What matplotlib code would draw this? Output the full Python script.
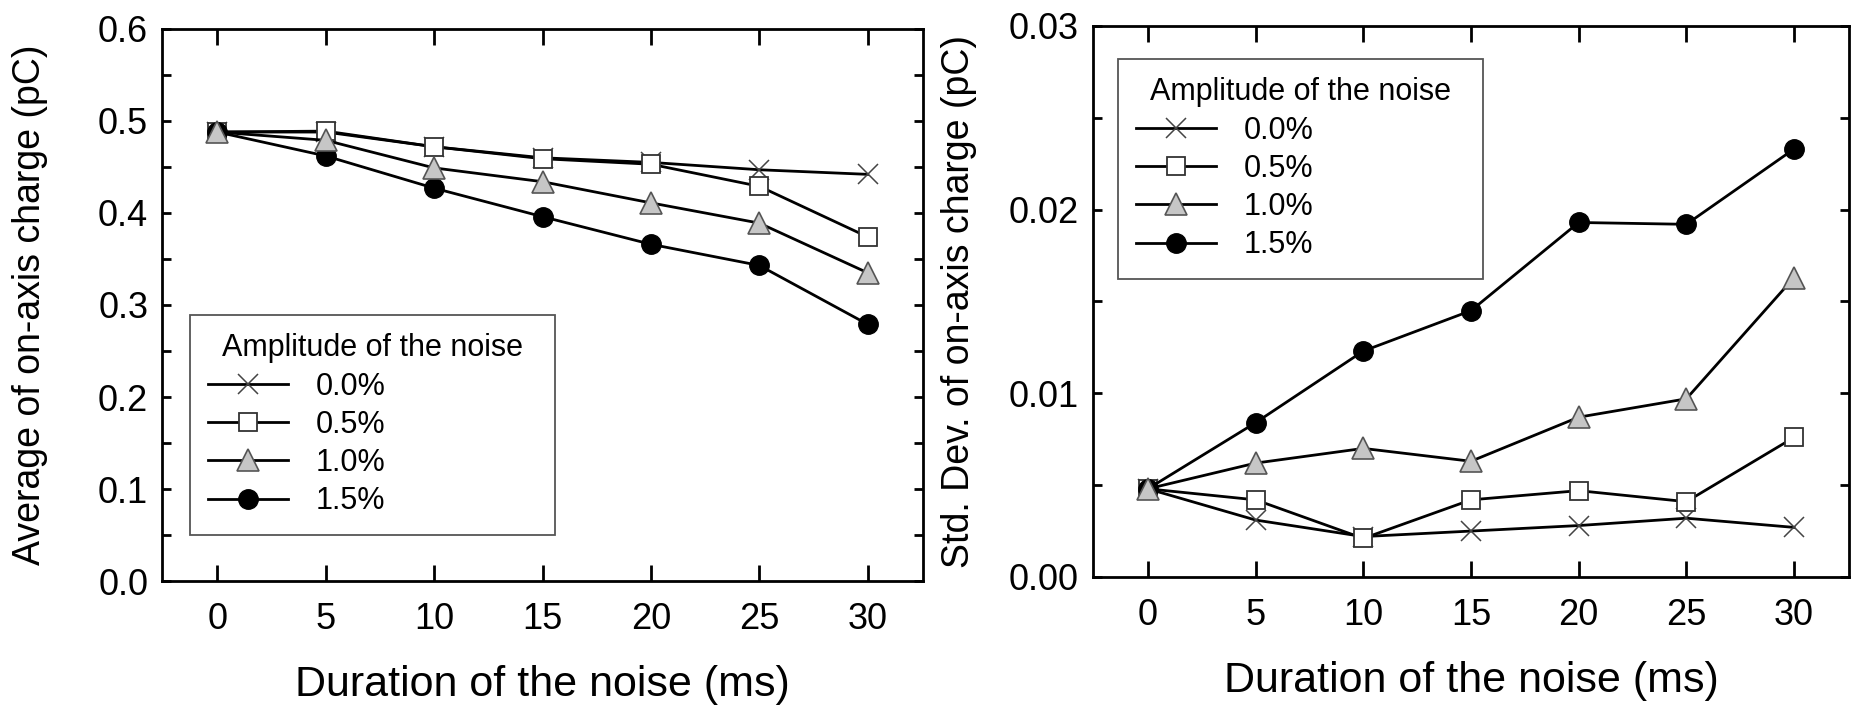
import numpy as np
import matplotlib
matplotlib.use('Agg')
import matplotlib.pyplot as plt
from matplotlib.ticker import MultipleLocator, FormatStrFormatter

plt.rcParams['font.family'] = ['Liberation Sans', 'DejaVu Sans']

# duration of the noise (ms)
x = [0, 5, 10, 15, 20, 25, 30]
labels = ['0.0%', '0.5%', '1.0%', '1.5%']

# average of on-axis charge (pC)
avg_00 = [0.488, 0.488, 0.472, 0.460, 0.455, 0.447, 0.442]
avg_05 = [0.488, 0.489, 0.472, 0.459, 0.453, 0.429, 0.374]
avg_10 = [0.488, 0.479, 0.449, 0.434, 0.411, 0.389, 0.335]
avg_15 = [0.488, 0.462, 0.427, 0.396, 0.366, 0.343, 0.279]

# std. dev. of on-axis charge (pC)
std_00 = [0.0048, 0.0031, 0.0022, 0.0025, 0.0028, 0.0032, 0.0027]
std_05 = [0.0048, 0.0042, 0.0021, 0.0042, 0.0047, 0.0041, 0.0076]
std_10 = [0.0048, 0.0062, 0.0070, 0.0063, 0.0087, 0.0097, 0.0163]
std_15 = [0.0048, 0.0084, 0.0123, 0.0145, 0.0193, 0.0192, 0.0233]

styles = [
    dict(marker='x', ms=15, mfc='none', mec='#444444', mew=1.1, zorder=2),
    dict(marker='s', ms=13.5, mfc='white', mec='#333333', mew=1.3, zorder=3),
    dict(marker='^', ms=15.5, mfc='#c6c6c6', mec='#555555', mew=1.2, zorder=5),
    dict(marker='o', ms=14, mfc='black', mec='black', mew=1.0, zorder=4),
]

fig = plt.figure(figsize=(18.56, 7.07), dpi=100)
ax1 = fig.add_axes([0.0873, 0.1782, 0.4100, 0.7808])
ax2 = fig.add_axes([0.5889, 0.1839, 0.4073, 0.7794])


def draw(ax, series, ymax, ystep, fmt, leg_box, ylab, ylab_x):
    for ys, lab, st in zip(series, labels, styles):
        ax.plot(x, ys, color='black', lw=2.0, label=lab, **st)
    ax.set_xlim(-2.55, 32.55)
    ax.set_ylim(0, ymax)
    ax.xaxis.set_major_locator(MultipleLocator(5))
    ax.yaxis.set_major_locator(MultipleLocator(ystep))
    ax.yaxis.set_minor_locator(MultipleLocator(ystep / 2))
    ax.yaxis.set_major_formatter(FormatStrFormatter(fmt))
    ax.tick_params(axis='x', which='major', direction='in', top=True,
                   length=11.5, width=2.0, pad=15, labelsize=26)
    ax.tick_params(axis='y', which='both', direction='in', right=True,
                   length=6.5, width=2.0, pad=10, labelsize=26)
    for sp in ax.spines.values():
        sp.set_linewidth(2.0)
    ax.set_xlabel('Duration of the noise (ms)', fontsize=31, labelpad=20)
    ax.set_ylabel(ylab, fontsize=27)
    ax.yaxis.set_label_coords(ylab_x, 0.5)
    leg = ax.legend(loc='upper left', bbox_to_anchor=leg_box, mode='expand',
                    borderaxespad=0, borderpad=0.6, fontsize=22,
                    title='Amplitude of the noise', title_fontsize=22,
                    handlelength=2.6, handletextpad=0.9, labelspacing=0.27,
                    fancybox=False, framealpha=1, edgecolor='#555555')
    leg.get_frame().set_linewidth(1.3)


draw(ax1, [avg_00, avg_05, avg_10, avg_15], 0.6, 0.1, '%.1f',
     (0.0368, 0.0906, 0.4796, 0.3914), 'Average of on-axis charge (pC)', -0.150)
draw(ax2, [std_00, std_05, std_10, std_15], 0.03, 0.01, '%.2f',
     (0.0331, 0.550, 0.4828, 0.390), 'Std. Dev. of on-axis charge (pC)', -0.153)

fig.savefig('out.png', dpi=100)
